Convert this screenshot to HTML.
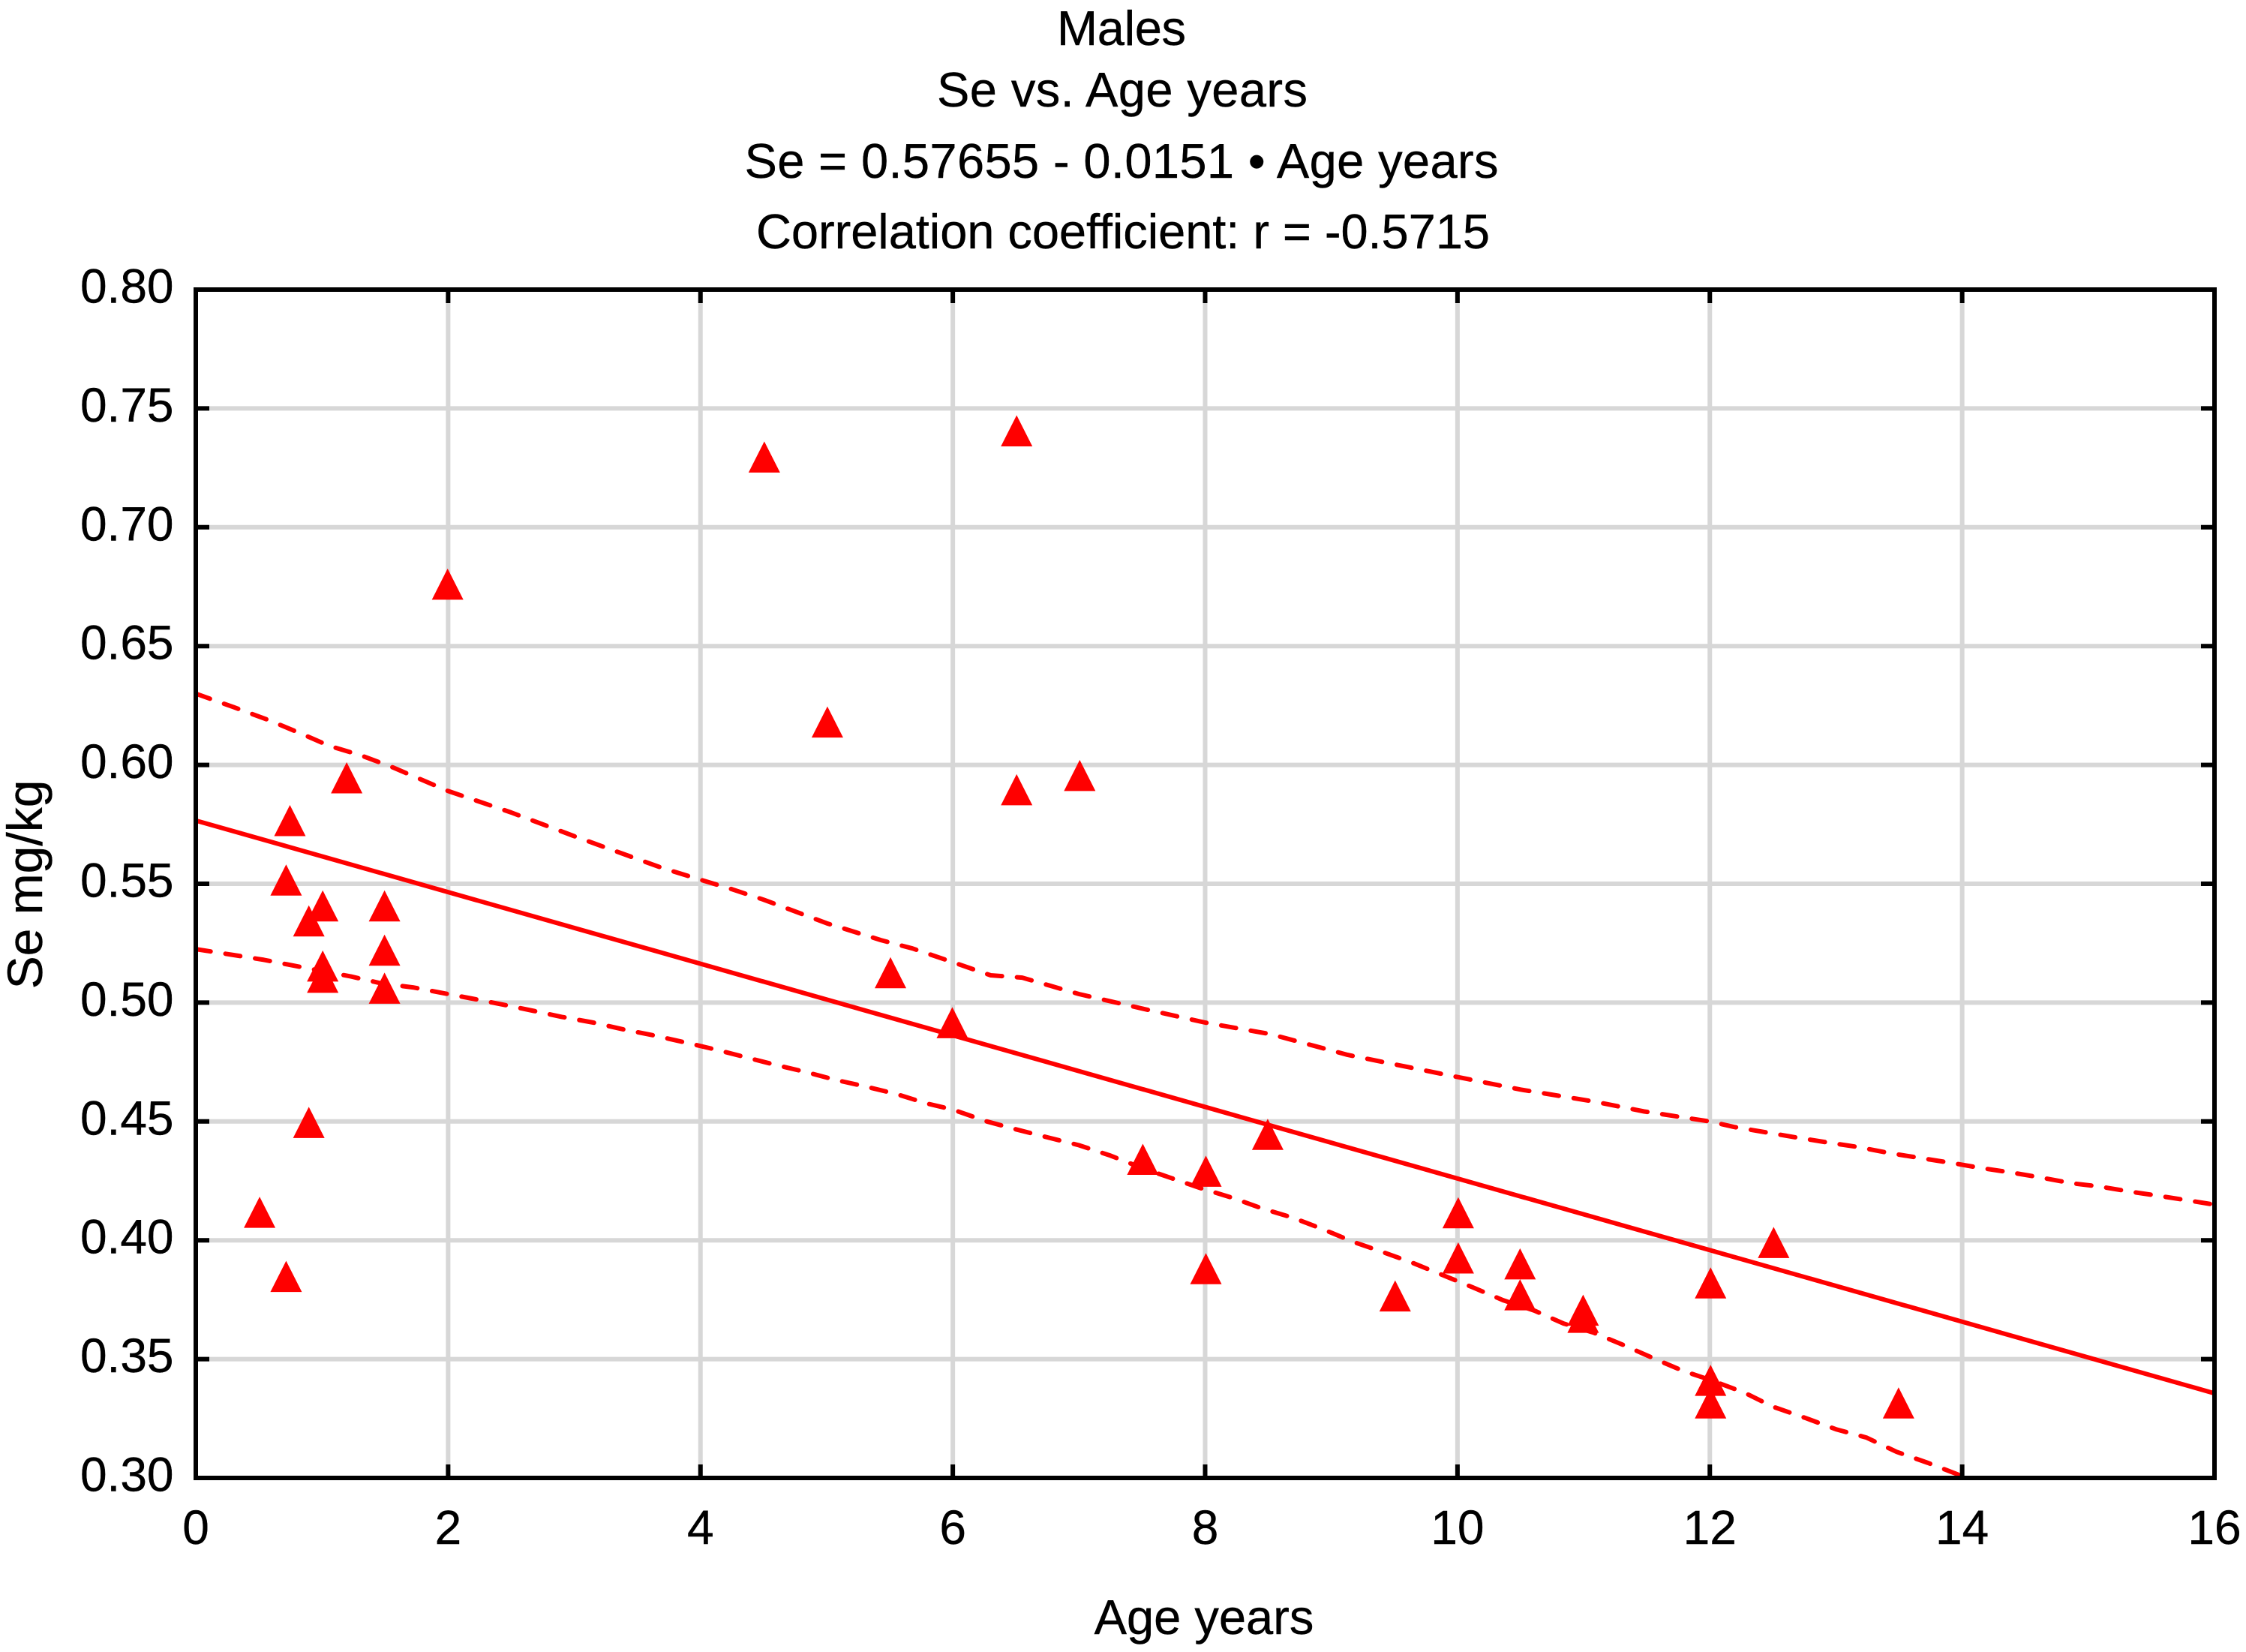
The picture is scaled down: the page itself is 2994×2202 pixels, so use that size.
<!DOCTYPE html>
<html lang="en">
<head>
<meta charset="utf-8">
<title>Males: Se vs. Age years</title>
<style>
html,body{margin:0;padding:0;background:#fff;}
svg{display:block;}
text{font-family:"Liberation Sans",Arial,sans-serif;fill:#000;font-size:64px;stroke:#000;stroke-width:0.4px;}
</style>
</head>
<body>
<svg id="chart" xmlns="http://www.w3.org/2000/svg" width="2994" height="2202" viewBox="0 0 2994 2202">
  <rect x="0" y="0" width="2994" height="2202" fill="#fff"/>
  <g id="title" text-anchor="middle" style="font-size:65px">
    <text x="1495" y="60" style="font-size:65px" textLength="172">Males</text>
    <text x="1496" y="142" style="font-size:65px" textLength="494">Se vs. Age years</text>
    <text x="1495" y="237" style="font-size:65px" textLength="1005">Se = 0.57655 - 0.0151 • Age years</text>
    <text x="1497" y="331" style="font-size:65px" textLength="978">Correlation coefficient: r = -0.5715</text>
  </g>
  <g id="grid"></g>
  <g id="bands"></g>
  <g id="fit"></g>
  <g id="points"></g>
  <g id="frame"></g>
  <g id="xlabels" text-anchor="middle"></g>
  <g id="ylabels" text-anchor="end"></g>
  <text x="1605" y="2178" text-anchor="middle" style="font-size:65px">Age years</text>
  <text transform="translate(56,1179) rotate(-90)" text-anchor="middle" style="font-size:66px">Se mg/kg</text>
</svg>
<script>
var xTicks = [0, 2, 4, 6, 8, 10, 12, 14, 16];
var yTicks = [0.30, 0.35, 0.40, 0.45, 0.50, 0.55, 0.60, 0.65, 0.70, 0.75, 0.80];
var xTickLabels = ["0", "2", "4", "6", "8", "10", "12", "14", "16"];
var yTickLabels = ["0.30", "0.35", "0.40", "0.45", "0.50", "0.55", "0.60", "0.65", "0.70", "0.75", "0.80"];

var ageValues = [0.5, 0.71, 0.71, 0.74, 0.89, 0.89, 1, 1, 1, 1.19, 1.49, 1.49, 1.49, 1.99, 4.5, 5, 5.5, 5.99, 6.5, 6.5, 7, 7.5, 8, 8, 8.49, 9.5, 10, 10, 10.49, 10.49, 10.99, 10.99, 12, 12, 12, 12.5, 13.49];
var seValues = [0.4117, 0.3847, 0.5515, 0.5765, 0.5343, 0.4495, 0.5406, 0.5153, 0.5106, 0.5945, 0.5406, 0.522, 0.506, 0.676, 0.7295, 0.618, 0.5125, 0.4915, 0.7405, 0.5895, 0.5955, 0.434, 0.429, 0.388, 0.4445, 0.3765, 0.4115, 0.3925, 0.39, 0.377, 0.3705, 0.3675, 0.382, 0.341, 0.3315, 0.399, 0.3315];

var fitAges = [0, 16];
var fitValues = [0.5766, 0.3356];

var upperAges = [0, 0.3, 0.57, 0.82, 1.06, 1.31, 1.56, 2, 2.5, 3, 3.47, 3.7, 4, 4.25, 4.5, 5, 5.43, 5.68, 6, 6.3, 6.55, 7, 7.5, 8, 8.52, 9.13, 10, 10.5, 11.07, 11.48, 12, 12.19, 12.68, 12.95, 13.18, 13.42, 13.67, 13.92, 14.15, 14.39, 14.6, 14.87, 15.09, 15.34, 15.56, 15.81, 16];
var upperValues = [0.63, 0.6243, 0.619, 0.6135, 0.608, 0.604, 0.599, 0.589, 0.58, 0.57, 0.561, 0.5566, 0.5517, 0.5477, 0.5433, 0.5334, 0.5263, 0.5228, 0.517, 0.5115, 0.5105, 0.5036, 0.4975, 0.4916, 0.4867, 0.478, 0.4687, 0.4634, 0.4585, 0.4542, 0.45, 0.4477, 0.4433, 0.441, 0.4392, 0.4367, 0.4346, 0.4325, 0.4304, 0.4285, 0.4266, 0.424, 0.4226, 0.4204, 0.4187, 0.4166, 0.415];

var lowerAges = [0, 0.3, 0.54, 0.79, 1.23, 1.48, 1.72, 2, 2.22, 2.46, 2.68, 2.9, 3.15, 3.4, 3.65, 3.9, 4.14, 4.36, 4.58, 4.82, 5.07, 5.3, 5.55, 5.79, 6, 6.27, 6.5, 6.75, 7, 7.25, 7.5, 7.73, 7.96, 8.22, 8.45, 8.7, 8.94, 9.17, 9.41, 9.64, 9.89, 10.12, 10.36, 10.61, 10.84, 11.08, 11.33, 11.56, 11.79, 12, 12.27, 12.5, 12.76, 13, 13.24, 13.48, 13.73, 13.97, 14];
var lowerValues = [0.5225, 0.52, 0.518, 0.5154, 0.511, 0.508, 0.5064, 0.5036, 0.5014, 0.4989, 0.4965, 0.494, 0.4916, 0.4886, 0.486, 0.483, 0.48, 0.477, 0.474, 0.471, 0.4675, 0.4648, 0.4616, 0.4576, 0.455, 0.45, 0.4467, 0.4433, 0.44, 0.4356, 0.4304, 0.4262, 0.422, 0.4178, 0.4134, 0.4094, 0.4045, 0.3994, 0.395, 0.3906, 0.3852, 0.3802, 0.3748, 0.3704, 0.365, 0.3611, 0.3556, 0.3502, 0.345, 0.3413, 0.336, 0.33, 0.3252, 0.3205, 0.317, 0.311, 0.3063, 0.3014, 0.3];

var NS = "http://www.w3.org/2000/svg";
var plotLeft = 261, plotRight = 2952, plotTop = 386, plotBottom = 1970;
var xMin = 0, xMax = 16, yMin = 0.30, yMax = 0.80;

function xScale(v) { return plotLeft + (v - xMin) / (xMax - xMin) * (plotRight - plotLeft); }
function yScale(v) { return plotBottom - (v - yMin) / (yMax - yMin) * (plotBottom - plotTop); }

function make(tag, attrs, parent) {
  var el = document.createElementNS(NS, tag);
  for (var k in attrs) el.setAttribute(k, attrs[k]);
  parent.appendChild(el);
  return el;
}
function polyPoints(xs, ys) {
  return xs.map(function (x, i) { return xScale(x).toFixed(1) + "," + yScale(ys[i]).toFixed(1); }).join(" ");
}

var grid = document.getElementById("grid");
var frame = document.getElementById("frame");
var bands = document.getElementById("bands");
var fit = document.getElementById("fit");
var points = document.getElementById("points");
var xlabels = document.getElementById("xlabels");
var ylabels = document.getElementById("ylabels");
var tickLen = 18;

xTicks.forEach(function (t, i) {
  var x = xScale(t);
  if (t !== xMin && t !== xMax) {
    var g = make("line", {x1: x, x2: x, y1: plotTop, y2: plotBottom, stroke: "#d7d7d7", "stroke-width": 6}, grid);
    
    
    var t1 = make("line", {x1: x, x2: x, y1: plotTop, y2: plotTop + tickLen, stroke: "#000", "stroke-width": 6}, frame);
    
    
    var t2 = make("line", {x1: x, x2: x, y1: plotBottom - tickLen, y2: plotBottom, stroke: "#000", "stroke-width": 6}, frame);
    
    
  }
  var lab = make("text", {x: x, y: 2058}, xlabels);
  lab.textContent = xTickLabels[i];
  
  
});

yTicks.forEach(function (t, i) {
  var y = yScale(t);
  if (t !== yMin && t !== yMax) {
    var g = make("line", {x1: plotLeft, x2: plotRight, y1: y, y2: y, stroke: "#d7d7d7", "stroke-width": 6}, grid);
    
    
    var t1 = make("line", {x1: plotLeft, x2: plotLeft + tickLen, y1: y, y2: y, stroke: "#000", "stroke-width": 6}, frame);
    
    
    var t2 = make("line", {x1: plotRight - tickLen, x2: plotRight, y1: y, y2: y, stroke: "#000", "stroke-width": 6}, frame);
    
    
  }
  var lab = make("text", {x: 231.5, y: y + 17.5}, ylabels);
  lab.textContent = yTickLabels[i];
  
  
});

var upper = make("polyline", {points: polyPoints(upperAges, upperValues), fill: "none", stroke: "#ff0000", "stroke-width": 6, "stroke-dasharray": "20 20", "stroke-linecap": "round", "stroke-linejoin": "round"}, bands);


var lower = make("polyline", {points: polyPoints(lowerAges, lowerValues), fill: "none", stroke: "#ff0000", "stroke-width": 6, "stroke-dasharray": "20 20", "stroke-linecap": "round", "stroke-linejoin": "round"}, bands);



var fitLine = make("polyline", {points: polyPoints(fitAges, fitValues), fill: "none", stroke: "#ff0000", "stroke-width": 6}, fit);



ageValues.forEach(function (a, i) {
  var cx = xScale(a) + 1, cy = yScale(seValues[i]);
  var tri = make("polygon", {points: cx + "," + (cy - 21) + " " + (cx + 21) + "," + (cy + 20.5) + " " + (cx - 21) + "," + (cy + 20.5), fill: "#ff0000"}, points);
  
  
});

var border = make("rect", {x: plotLeft, y: plotTop, width: plotRight - plotLeft, height: plotBottom - plotTop, fill: "none", stroke: "#000", "stroke-width": 6}, frame);


</script>
</body>
</html>
